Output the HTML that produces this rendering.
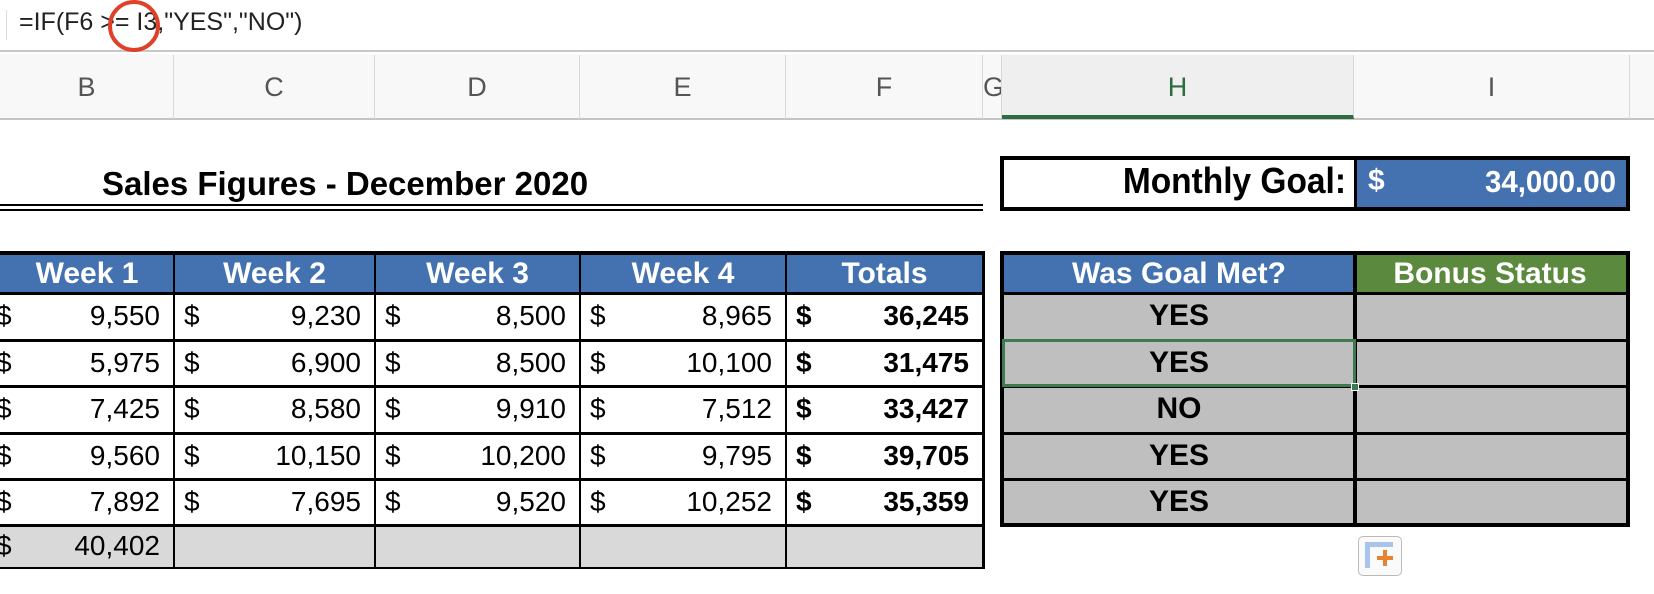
<!DOCTYPE html>
<html><head><meta charset="utf-8"><style>
*{margin:0;padding:0;box-sizing:border-box}
body{width:1654px;height:594px;overflow:hidden;background:#fff;font-family:"Liberation Sans",Arial,sans-serif;position:relative}
.a{position:absolute}
.hl{position:absolute;background:#000}
.txt{position:absolute;font-size:28px;line-height:46px;color:#000;white-space:nowrap;z-index:5}
.hd{position:absolute;color:#fff;font-weight:bold;font-size:30px;text-align:center;line-height:40px;z-index:5;white-space:nowrap}
.col{position:absolute;top:55px;height:64px;line-height:64px;text-align:center;font-size:27px;color:#555;border-right:1px solid #d8d8d8}
</style></head><body>
<div class="a" style="left:0;top:0;width:1654px;height:52px;background:#fff;border-bottom:2px solid #c8c8c8">
  <div class="a" style="left:6px;top:10px;width:1px;height:30px;background:#ddd"></div>
  <div class="a" style="left:19px;top:8px;font-size:25px;color:#222">=IF(F6 &gt;= I3,"YES","NO")</div>
  <div class="a" style="left:108px;top:0px;width:52px;height:52px;border:4px solid #e0402a;border-radius:50%"></div>
</div>
<div class="a" style="left:0;top:54px;width:1654px;height:66px;background:#f8f8f8;border-bottom:2px solid #c4c4c4"></div>
<div class="col" style="left:0;width:174px">B</div>
<div class="col" style="left:174px;width:201px">C</div>
<div class="col" style="left:375px;width:205px">D</div>
<div class="col" style="left:580px;width:206px">E</div>
<div class="col" style="left:786px;width:197px">F</div>
<div class="col" style="left:983px;width:19px;overflow:hidden;text-align:left">G</div>
<div class="col" style="left:1002px;width:352px;background:#efefef;color:#2e6b3d;border-bottom:4px solid #2e6b3d;height:64px">H</div>
<div class="col" style="left:1354px;width:276px">I</div>

<div class="a" style="left:0;top:165px;width:690px;text-align:center;font-size:33px;font-weight:bold">Sales Figures - December 2020</div>
<div class="hl" style="left:0;top:204px;width:983px;height:2px"></div>
<div class="hl" style="left:0;top:209px;width:983px;height:2px"></div>

<div class="a" style="left:1000px;top:156px;width:630px;height:55px;border:4px solid #000;background:#fff"></div>
<div class="a" style="left:1354px;top:160px;width:272px;height:47px;background:#4472b0;border-left:3px solid #000"></div>
<div class="a" style="left:1000px;top:160px;width:346px;text-align:right;font-size:36px;font-weight:bold;transform:scaleX(.93);transform-origin:right">Monthly Goal:</div>
<div class="a" style="left:1368px;top:164px;color:#fff;font-weight:bold;font-size:30px">$</div>
<div class="a" style="left:1380px;top:164px;width:236px;text-align:right;color:#fff;font-weight:bold;font-size:31px;transform:scaleX(.95);transform-origin:right">34,000.00</div>

<!-- sales table -->
<div class="a" style="left:0;top:251px;width:983px;height:42px;background:#4472b0;border-top:4px solid #000"></div>
<div class="hd" style="left:0;top:254px;width:174px">Week 1</div>
<div class="hd" style="left:174px;top:254px;width:201px">Week 2</div>
<div class="hd" style="left:375px;top:254px;width:205px">Week 3</div>
<div class="hd" style="left:580px;top:254px;width:206px">Week 4</div>
<div class="hd" style="left:786px;top:254px;width:197px">Totals</div>
<div class="a" style="left:0;top:525px;width:983px;height:43px;background:#d9d9d9"></div>

<!-- goal table -->
<div class="a" style="left:1000px;top:251px;width:630px;height:276px;background:#bfbfbf;border:4px solid #000"></div>
<div class="a" style="left:1004px;top:255px;width:350px;height:38px;background:#4472b0"></div>
<div class="a" style="left:1354px;top:255px;width:272px;height:38px;background:#5b8a3e;border-left:3px solid #000"></div>
<div class="hd" style="left:1004px;top:254px;width:350px">Was Goal Met?</div>
<div class="hd" style="left:1354px;top:254px;width:272px">Bonus Status</div>
<div id="goal"></div>
<div id="sales"></div>
<div class="a" style="left:1002px;top:339px;width:354px;height:48px;border:3px solid #3d7a4f;z-index:6"></div>
<div class="a" style="left:1351px;top:383px;width:8px;height:8px;background:#3d7a4f;border:1px solid #fff;z-index:7"></div>

<div class="a" style="left:1358px;top:536px;width:44px;height:40px;border:1px solid #bbb;border-radius:5px;background:#fafafa">
  <div class="a" style="left:6px;top:5px;width:28px;height:26px;border:5px solid #a9c4ec;border-right:none;border-bottom:none"></div>
  <div class="a" style="left:18px;top:19px;width:16px;height:4px;background:#e8822e"></div>
  <div class="a" style="left:24px;top:13px;width:4px;height:16px;background:#e8822e"></div>
</div>

<script>
const weeks=[[9550,9230,8500,8965],[5975,6900,8500,10100],[7425,8580,9910,7512],[9560,10150,10200,9795],[7892,7695,9520,10252]];
const goalMet=["YES","YES","NO","YES","YES"];
const week1Sum="40,402";
const colL=[0,174,375,580,786,983];
const rowT=[293,340,386,433,479,525,568];
const f=n=>n.toLocaleString('en-US');
const S=document.getElementById('sales');
const G=document.getElementById('goal');
function add(parent,html,style,name,inter){const d=document.createElement('div');d.className=style.cls||'txt';d.innerHTML=html;Object.assign(d.style,style.css);


parent.appendChild(d);return d;}
weeks.forEach((r,i)=>{
  const vals=r.concat([r.reduce((a,b)=>a+b,0)]);
  vals.forEach((v,j)=>{
    const bold=j===4;
    add(S,'$',{css:{left:(j===0?-4:colL[j]+10)+'px',top:rowT[i]+'px',fontWeight:bold?'bold':'normal'}},'dollar-sign','false');
    add(S,f(v),{css:{left:colL[j]+'px',top:rowT[i]+'px',width:(colL[j+1]-colL[j]-14)+'px',textAlign:'right',fontWeight:bold?'bold':'normal'}},'sales-cell','true');
  });
  add(S,goalMet[i],{css:{left:'1004px',top:rowT[i]+'px',width:'350px',textAlign:'center',fontWeight:'bold',fontSize:'30px'}},'goal-met-cell','true');
});
add(S,'$',{css:{left:'-4px',top:'525px',lineHeight:'42px'}},'dollar-sign','false');
add(S,week1Sum,{css:{left:'0px',top:'525px',width:'160px',textAlign:'right',lineHeight:'42px'}},'week-1-sum','true');
for(let i=0;i<6;i++){const h=document.createElement('div');h.className='hl';Object.assign(h.style,{left:'0px',top:(rowT[i]-1)+'px',width:'983px',height:'3px'});S.appendChild(h);}
const hb=document.createElement('div');hb.className='hl';Object.assign(hb.style,{left:'0px',top:'567px',width:'983px',height:'2px'});S.appendChild(hb);
for(let j=1;j<6;j++){const v=document.createElement('div');v.className='hl';Object.assign(v.style,{left:(colL[j]-1)+'px',top:'251px',width:(j===5?'3px':'2px'),height:'318px'});S.appendChild(v);}
for(let i=1;i<5;i++){const h=document.createElement('div');h.className='hl';Object.assign(h.style,{left:'1000px',top:(rowT[i]-1)+'px',width:'630px',height:'3px'});G.appendChild(h);}
const h0=document.createElement('div');h0.className='hl';Object.assign(h0.style,{left:'1000px',top:'292px',width:'630px',height:'3px'});G.appendChild(h0);
const vv=document.createElement('div');vv.className='hl';Object.assign(vv.style,{left:'1353px',top:'251px',width:'4px',height:'276px'});G.appendChild(vv);
</script>
</body></html>
